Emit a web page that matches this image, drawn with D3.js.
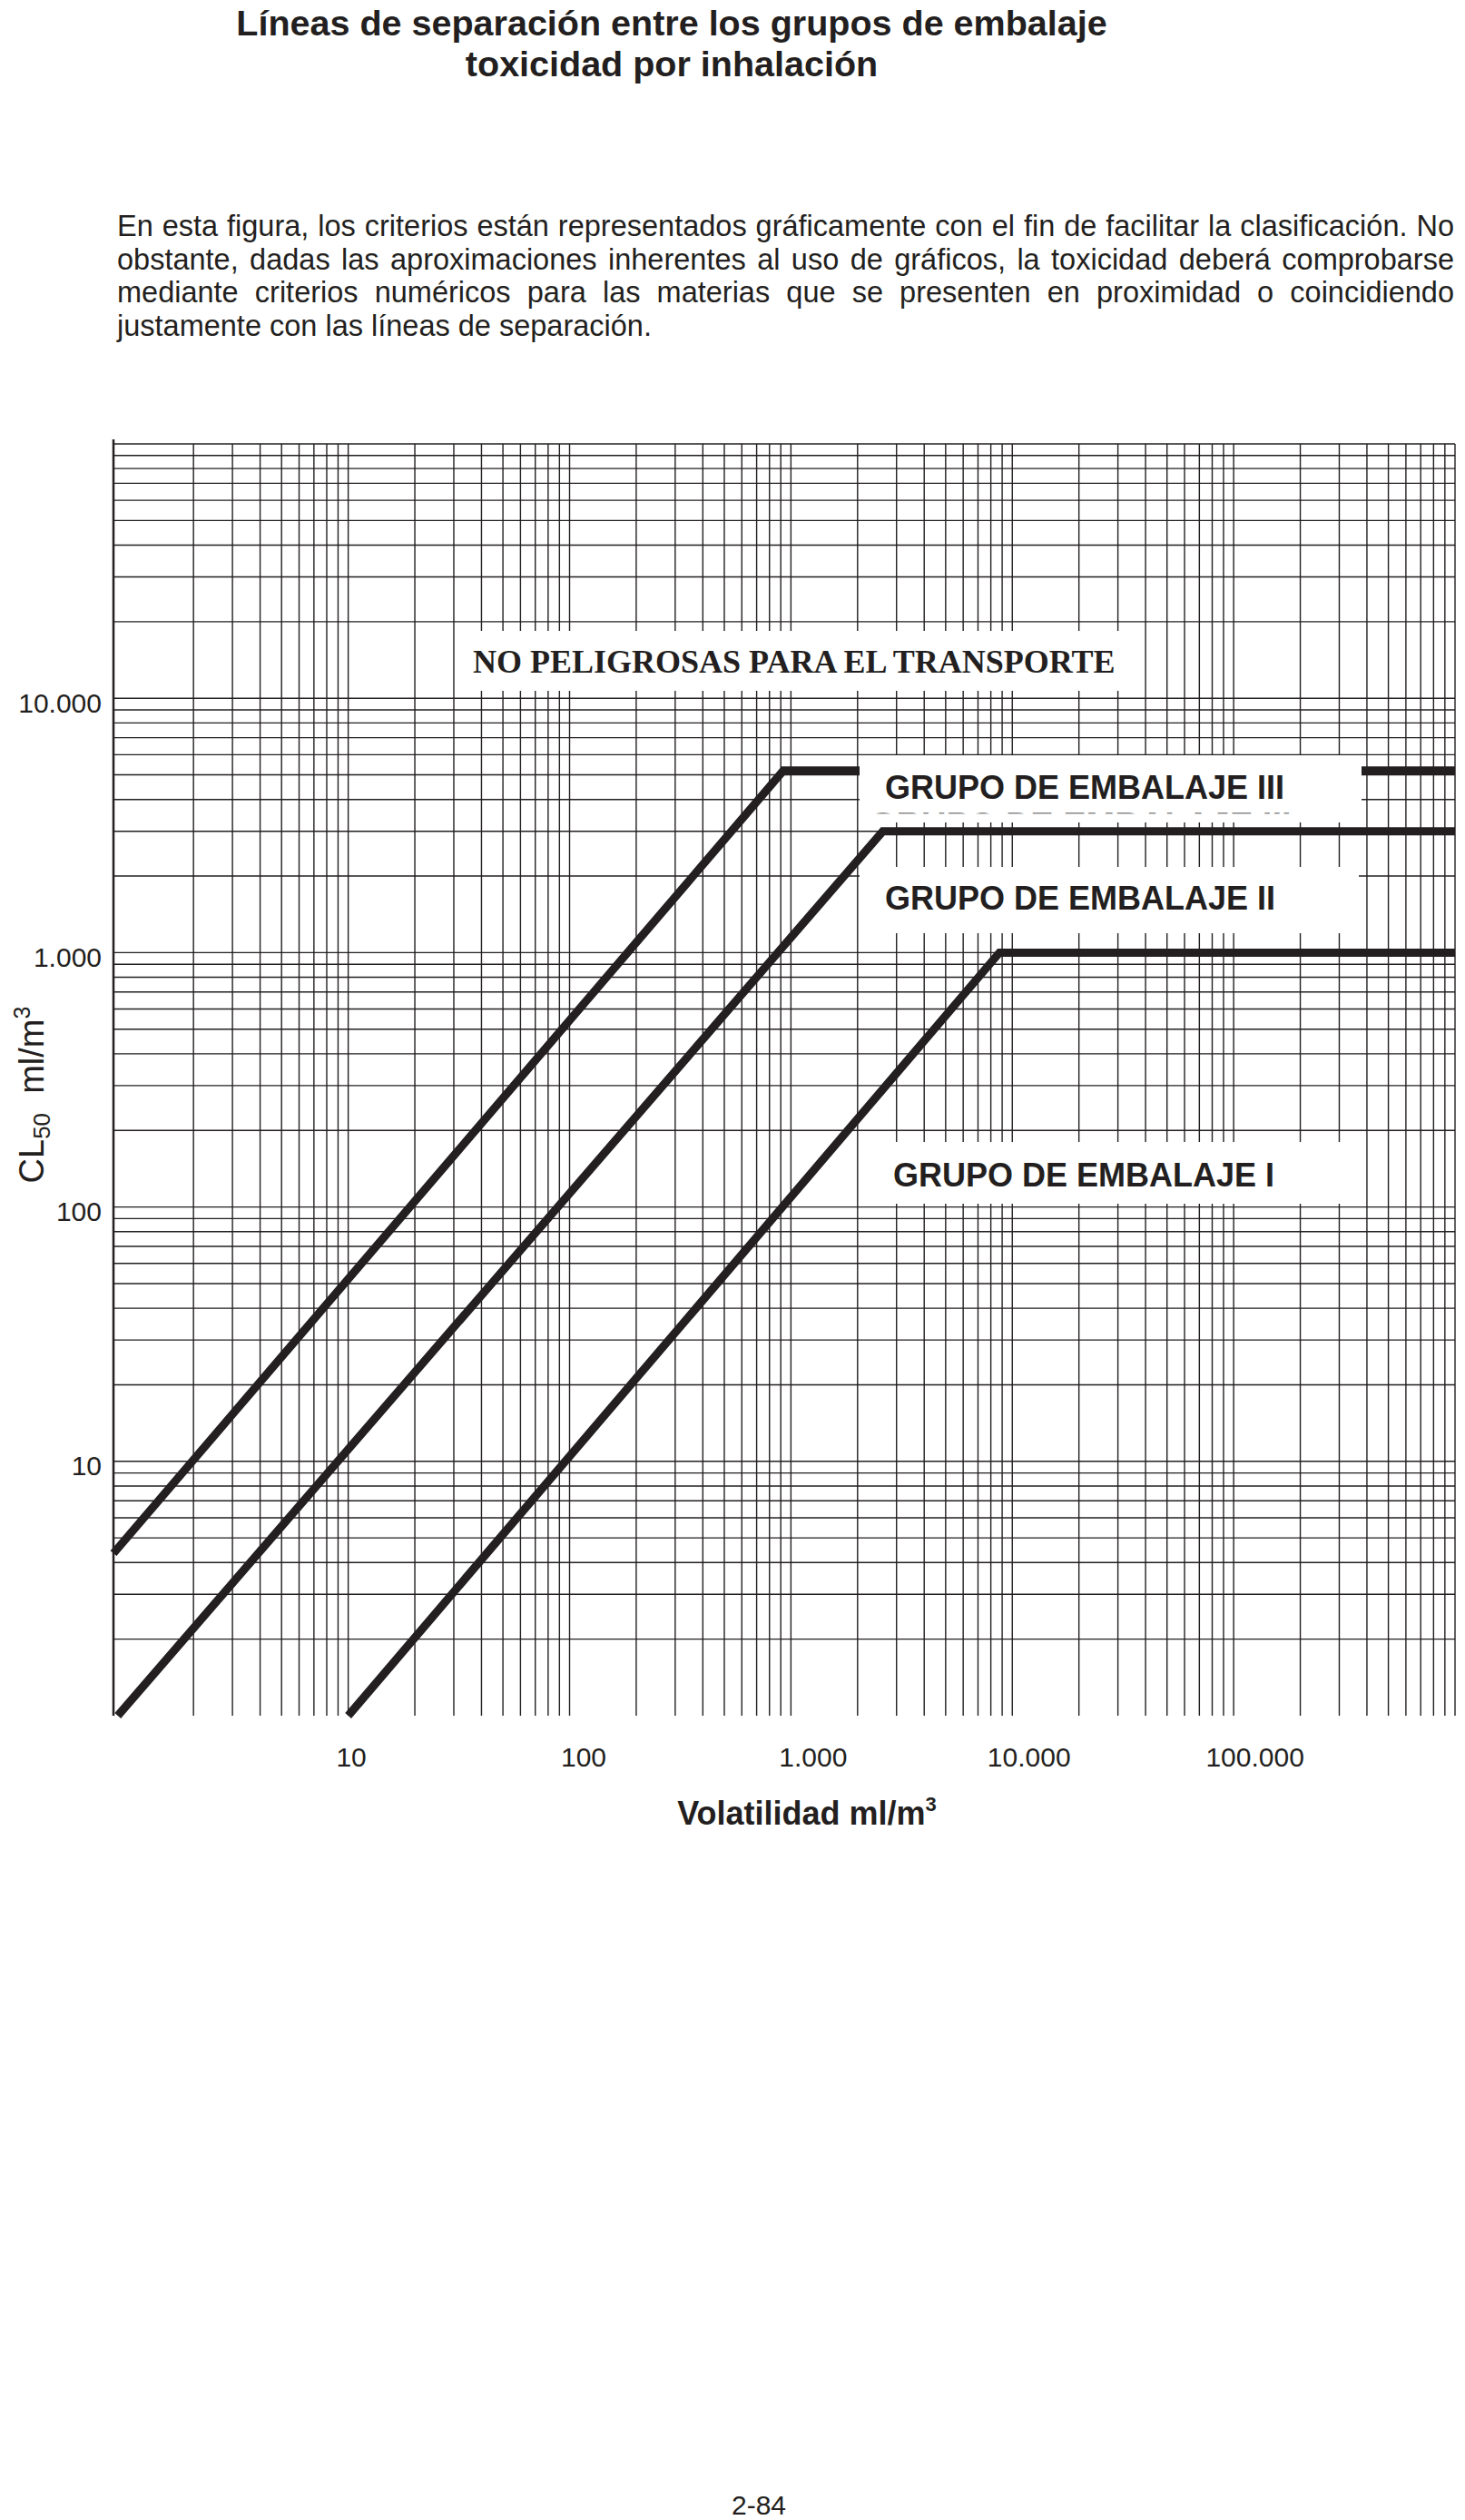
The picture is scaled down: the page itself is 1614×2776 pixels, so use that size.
<!DOCTYPE html>
<html>
<head>
<meta charset="utf-8">
<title>Líneas de separación - toxicidad por inhalación</title>
<script src="https://cdnjs.cloudflare.com/ajax/libs/d3/7.8.5/d3.min.js"></script>
<style>
body { margin: 0; background: #fff; }
svg { display: block; }
</style>
</head>
<body>
<script>

// break points of each separation line:
// volatilidad (ml/m3) -> CL50 (ml/m3)
var grupo3Vol = [0.87, 925, 1000000];
var grupo3CL = [4.35, 5200, 5200];
var grupo2Vol = [0.91, 2600, 1000000];
var grupo2CL = [1, 3000, 3000];
var grupo1Vol = [10, 8750, 1000000];
var grupo1CL = [1, 1000, 1000];

var xTicks = [10, 100, 1000, 10000, 100000];
var yTicks = [10, 100, 1000, 10000];
var xDomain = [0.87, 1000000];
var yDomain = [1, 100000];

var titleLines = ["Líneas de separación entre los grupos de embalaje", "toxicidad por inhalación"];
var textLines = [
  "En esta figura, los criterios están representados gráficamente con el fin de facilitar la clasificación. No",
  "obstante, dadas las aproximaciones inherentes al uso de gráficos, la toxicidad deberá comprobarse",
  "mediante criterios numéricos para las materias que se presenten en proximidad o coincidiendo",
  "justamente con las líneas de separación."
];

var ink = "#231f20";
var sans = "'Liberation Sans', Arial, Helvetica, sans-serif";
var serif = "'Liberation Serif', 'Times New Roman', serif";

var svg = d3.select("body").append("svg")
    .attr("width", 1614)
    .attr("height", 2776);

svg.append("rect").attr("width", 1614).attr("height", 2776).attr("fill", "#fff");

// title
svg.append("g")
    .attr("font-family", sans)
    .attr("font-weight", "bold")
    .attr("font-size", 39.5)
    .attr("text-anchor", "middle")
    .attr("fill", ink)
  .selectAll("text")
    .data(titleLines)
  .join("text")
    .attr("x", 740)
    .attr("y", function(d, i) { return 39 + i * 45; })
    .text(function(d) { return d; });

// justified paragraph
var para = svg.append("g")
    .attr("font-family", sans)
    .attr("font-size", 32.5)
    .attr("fill", ink);

var textLeft = 129, textRight = 1602;
textLines.forEach(function(line, i) {
  var yy = 260 + i * 36.5;
  if (i == textLines.length - 1) {
    para.append("text").attr("x", textLeft).attr("y", yy).text(line);
    return;
  }
  var words = line.split(" ");
  var nodes = words.map(function(w) {
    return para.append("text").attr("y", yy).text(w);
  });
  var widths = nodes.map(function(n) { return n.node().getComputedTextLength(); });
  var gap = (textRight - textLeft - d3.sum(widths)) / (words.length - 1);
  var xx = textLeft;
  nodes.forEach(function(n, k) {
    n.attr("x", xx);
    xx += widths[k] + gap;
  });
});

// chart
var plot = {left: 125, right: 1603, top: 489, bottom: 1890};

var x = d3.scaleLog().domain(xDomain).range([plot.left, plot.right]);
var y = d3.scaleLog().domain(yDomain).range([plot.bottom, plot.top]);

var grid = svg.append("g")
    .attr("stroke", ink)
    .attr("stroke-width", 1.4);

grid.selectAll("line.v")
    .data(x.ticks().filter(function(v) { return v >= 2; }))
  .join("line")
    .attr("class", "v")
    .attr("x1", function(d) { return x(d); })
    .attr("x2", function(d) { return x(d); })
    .attr("y1", plot.top)
    .attr("y2", plot.bottom);

grid.selectAll("line.h")
    .data(y.ticks().filter(function(v) { return v > 1; }))
  .join("line")
    .attr("class", "h")
    .attr("x1", plot.left)
    .attr("x2", plot.right)
    .attr("y1", function(d) { return y(d); })
    .attr("y2", function(d) { return y(d); });

svg.append("line")
    .attr("x1", plot.left).attr("x2", plot.left)
    .attr("y1", plot.top - 5).attr("y2", plot.bottom)
    .attr("stroke", ink)
    .attr("stroke-width", 2.5);

// separation lines
var line = d3.line()
    .x(function(d) { return x(d[0]); })
    .y(function(d) { return y(d[1]); });

var series = [
  d3.zip(grupo3Vol, grupo3CL),
  d3.zip(grupo2Vol, grupo2CL),
  d3.zip(grupo1Vol, grupo1CL)
];

svg.append("g").selectAll("path")
    .data(series)
  .join("path")
    .attr("d", line)
    .attr("fill", "none")
    .attr("stroke", ink)
    .attr("stroke-width", 9)
    .attr("stroke-linejoin", "miter");

// labels on white boxes
var boxes = [
  {x: 508, y: 695, w: 752, h: 66, tx: 521, ty: 741, text: "NO PELIGROSAS PARA EL TRANSPORTE", font: serif},
  {x: 947, y: 832, w: 553, h: 74, tx: 975, ty: 880, text: "GRUPO DE EMBALAJE III", font: sans},
  {x: 947, y: 955, w: 550, h: 73, tx: 975, ty: 1002, text: "GRUPO DE EMBALAJE II", font: sans},
  {x: 955, y: 1258, w: 542, h: 68, tx: 984, ty: 1307, text: "GRUPO DE EMBALAJE I", font: sans}
];

var lab = svg.append("g").selectAll("g")
    .data(boxes)
  .join("g");

lab.append("rect")
    .attr("x", function(d) { return d.x; })
    .attr("y", function(d) { return d.y; })
    .attr("width", function(d) { return d.w; })
    .attr("height", function(d) { return d.h; })
    .attr("fill", "#fff");

lab.append("text")
    .attr("x", function(d) { return d.tx; })
    .attr("y", function(d) { return d.ty; })
    .attr("font-family", function(d) { return d.font; })
    .attr("font-weight", "bold")
    .attr("font-size", 36)
    .attr("fill", ink)
    .text(function(d) { return d.text; });

// thin sliver of a hidden label left under the box, as in the print
svg.append("clipPath").attr("id", "sliver")
  .append("rect").attr("x", 955).attr("y", 894).attr("width", 540).attr("height", 2.5);
svg.append("text")
    .attr("clip-path", "url(#sliver)")
    .attr("x", 958)
    .attr("y", 922)
    .attr("font-family", sans)
    .attr("font-weight", "bold")
    .attr("font-size", 38)
    .attr("fill", "#8a8a8a")
    .text("GRUPO DE EMBALAJE III");

// axes
var fmt = d3.formatLocale({decimal: ",", thousands: ".", grouping: [3], currency: ["", ""]}).format(",");

var xAxisGroup = svg.append("g")
    .attr("transform", "translate(0," + plot.bottom + ")")
    .call(d3.axisBottom(x).tickValues(xTicks).tickFormat(fmt).tickSize(0).tickPadding(35));

var yAxisGroup = svg.append("g")
    .attr("transform", "translate(" + plot.left + ",0)")
    .call(d3.axisLeft(y).tickValues(yTicks).tickFormat(fmt).tickSize(0).tickPadding(13));

[xAxisGroup, yAxisGroup].forEach(function(g) {
  g.select(".domain").remove();
  g.attr("font-family", sans).attr("font-size", 30);
  g.selectAll("text").attr("fill", ink);
});
// the printed labels sit a little right of their grid lines
var labelShift = [3, 15, 24, 18, 23];
xAxisGroup.selectAll("text").attr("dx", function(d, i) { return labelShift[i]; });
yAxisGroup.selectAll("text").attr("dy", "0.5em");

// axis titles
var xt = svg.append("text")
    .attr("x", 889)
    .attr("y", 2010)
    .attr("text-anchor", "middle")
    .attr("font-family", sans)
    .attr("font-weight", "bold")
    .attr("font-size", 36)
    .attr("fill", ink);
xt.append("tspan").text("Volatilidad ml/m");
xt.append("tspan").attr("font-size", 22).attr("dy", -15).text("3");

var yt = svg.append("text")
    .attr("transform", "translate(48,1206) rotate(-90)")
    .attr("text-anchor", "middle")
    .attr("font-family", sans)
    .attr("font-size", 38)
    .attr("fill", ink);
yt.append("tspan").text("CL");
yt.append("tspan").attr("font-size", 26).attr("dy", 7).text("50");
yt.append("tspan").attr("dy", -7).text("\u00a0 ml/m");
yt.append("tspan").attr("font-size", 25).attr("dy", -15).text("3");

// page number
svg.append("text")
    .attr("x", 836)
    .attr("y", 2770)
    .attr("text-anchor", "middle")
    .attr("font-family", sans)
    .attr("font-size", 30)
    .attr("fill", ink)
    .text("2-84");

</script>
</body>
</html>
